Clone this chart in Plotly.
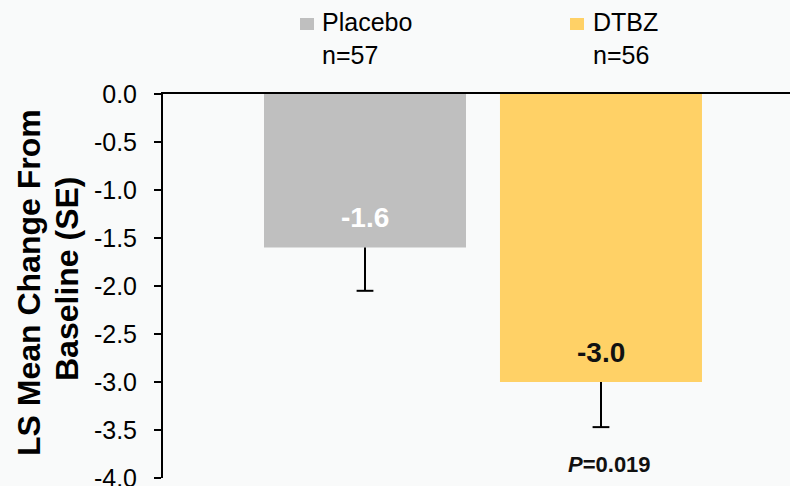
import plotly.graph_objects as go

# Treatment groups and least-squares mean change from baseline
groups = ["Placebo", "DTBZ"]
n_patients = [57, 56]
ls_mean = [-1.6, -3.0]
std_err = [0.45, 0.47]
p_value = "0.019"
y_ticks = [0.0, -0.5, -1.0, -1.5, -2.0, -2.5, -3.0, -3.5, -4.0]

bar_colors = ["#bfbfbf", "#ffd166"]
value_label_colors = ["#ffffff", "#111111"]
FONT = "Liberation Sans, Arial, sans-serif"
BG = "#f9fafa"

W, H = 790, 486
M = dict(l=163, r=0, t=94, b=8)
PW = W - M["l"] - M["r"]
PH = H - M["t"] - M["b"]


def px_x(px):
    return (px - M["l"]) / PW


def px_y(py):
    return (H - M["b"] - py) / PH


xs = list(range(len(groups)))

fig = go.Figure()
fig.add_bar(
    x=xs, y=ls_mean, width=0.856,
    marker=dict(color=bar_colors, line=dict(width=0)),
    hoverinfo="skip", showlegend=False,
)

# one-sided (downward) standard-error whiskers
stem_x, stem_y = [], []
for xi, m, s in zip(xs, ls_mean, std_err):
    stem_x += [xi, xi, None]
    stem_y += [m, m - s, None]
fig.add_scatter(
    x=stem_x, y=stem_y, mode="lines",
    line=dict(color="black", width=2), hoverinfo="skip", showlegend=False,
)
fig.add_scatter(
    x=xs, y=[m - s for m, s in zip(ls_mean, std_err)], mode="markers",
    marker=dict(symbol="line-ew", size=12, line=dict(color="black", width=2)),
    hoverinfo="skip", showlegend=False,
)

annotations = []
# value labels inside the bars
for xi, m, c in zip(xs, ls_mean, value_label_colors):
    annotations.append(dict(
        x=xi, y=m, xref="x", yref="y", yshift=30, showarrow=False,
        text=f"<b>{m:.1f}</b>", font=dict(family=FONT, size=28, color=c),
        xanchor="center", yanchor="middle",
    ))

# p-value below the DTBZ bar
annotations.append(dict(
    x=xs[1], xshift=9, y=px_y(464), xref="x", yref="paper", showarrow=False,
    text=f"<b><i>P</i>={p_value}</b>", font=dict(family=FONT, size=22, color="#111111"),
    xanchor="center", yanchor="middle",
))

# y-axis title, two lines
for line, cx, cy in [("LS Mean Change From", 29, 283), ("Baseline (SE)", 67, 279)]:
    annotations.append(dict(
        x=px_x(cx), y=px_y(cy), xref="paper", yref="paper", showarrow=False,
        text=f"<b>{line}</b>", textangle=-90,
        font=dict(family=FONT, size=32, color="black"),
        xanchor="center", yanchor="middle",
    ))

# legend: colour square + group name and sample size
shapes = []
for name, n, col, sq_left, txt_left in zip(groups, n_patients, bar_colors, [300, 570], [320, 591]):
    shapes.append(dict(
        type="rect", xref="paper", yref="paper",
        x0=px_x(sq_left), x1=px_x(sq_left + 14), y0=px_y(30), y1=px_y(18),
        fillcolor=col, line=dict(width=0),
    ))
    annotations.append(dict(
        x=px_x(txt_left), y=px_y(6), xref="paper", yref="paper", showarrow=False,
        text=f"{name}<br>n={n}", align="left",
        font=dict(family=FONT, size=25, color="black"),
        xanchor="left", yanchor="top",
    ))

fig.update_layout(
    width=W, height=H, margin=M,
    paper_bgcolor=BG, plot_bgcolor=BG,
    annotations=annotations, shapes=shapes,
    xaxis=dict(
        range=[-0.856, 1.801], side="top", showline=True, linewidth=2, linecolor="black",
        showticklabels=False, ticks="", showgrid=False, zeroline=False, fixedrange=True,
        automargin=False,
    ),
    yaxis=dict(
        range=[-4, 0], tickvals=y_ticks, ticktext=[f"{v:.1f}" for v in y_ticks],
        ticks="outside", ticklen=7, tickwidth=2, tickcolor="black",
        showline=True, linewidth=2, linecolor="black",
        showgrid=False, zeroline=False, ticklabelstandoff=12,
        ticklabeloverflow="allow", automargin=False,
        tickfont=dict(family=FONT, size=25, color="black"), fixedrange=True,
    ),
)

fig.write_html("out.html")
